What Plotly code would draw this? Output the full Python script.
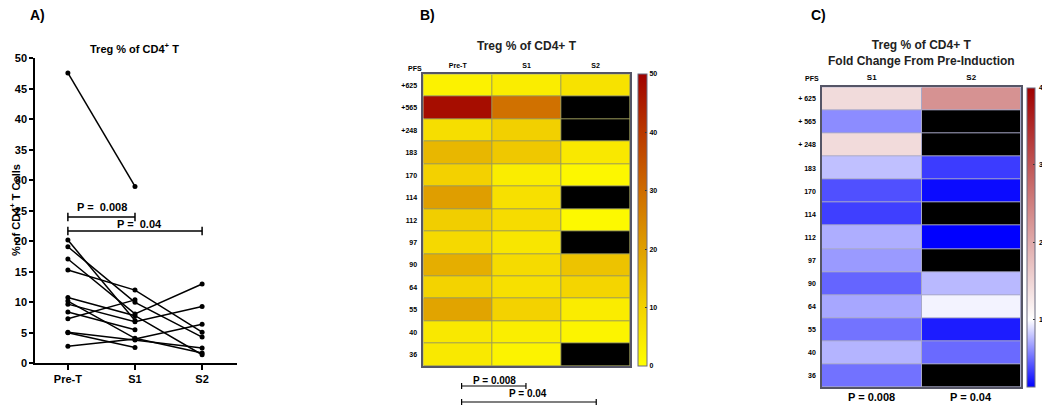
import numpy as np
import plotly.graph_objects as go

# ---------------- data ----------------
pfs_labels = ["+625", "+565", "+248", "183", "170", "114", "112", "97", "90", "64", "55", "40", "36"]
pfs_labels_c = ["+ 625", "+ 565", "+ 248", "183", "170", "114", "112", "97", "90", "64", "55", "40", "36"]
timepoints = ["Pre-T", "S1", "S2"]
pre_t = [2.8, 47.6, 7.3, 15.3, 10.2, 20.2, 10.8, 8.4, 17.1, 9.7, 19.1, 5.1, 5.0]
s1 = [4.0, 29.0, 10.4, 12.0, 4.1, 7.0, 7.8, 5.5, 8.1, 6.8, 10.0, 3.8, 2.6]
s2 = [6.4, None, None, 5.1, 1.7, None, 1.4, None, 13.0, 9.3, 4.3, 2.5, None]
y_ticks_a = [0, 5, 10, 15, 20, 25, 30, 35, 40, 45, 50]
cbar_ticks_c = [1, 2, 3, 4]

# page body has an 8px margin; keep the figure inside the visible window
OFF = 8
W, H = 1050 - 2 * OFF, 406 - OFF
def pxx(x):
    return (x - OFF) / W
def pyy(y):
    return 1 - (y - OFF) / H

FONT = "Liberation Sans, Arial, sans-serif"
def bf(size, color="black"):
    return dict(family=FONT, size=size, color=color, weight="bold")

n = len(pre_t)
fig = go.Figure()

# ---------------- Panel A: paired lines ----------------
for i in range(n):
    ys = [pre_t[i], s1[i], s2[i]]
    fig.add_trace(go.Scatter(
        x=[0, 1, 2], y=[np.nan if v is None else v for v in ys],
        mode="lines+markers", line=dict(color="black", width=1.5),
        marker=dict(color="black", size=5), showlegend=False,
        hoverinfo="skip", xaxis="x", yaxis="y"))

# ---------------- Panel B: heatmap of raw values ----------------
rows = list(range(n))
s2_arr = np.array([np.nan if v is None else v for v in s2], dtype=float)
z_b = np.column_stack([np.array(pre_t), np.array(s1), s2_arr])
cs_b = [[0.0, "#FFFF00"], [0.2, "#F3D200"], [0.4, "#DF9F00"], [0.6, "#CE6C00"],
        [0.8, "#B93800"], [1.0, "#A00000"]]
fig.add_trace(go.Heatmap(
    z=z_b, x=[0, 1, 2], y=rows, colorscale=cs_b, zmin=0, zmax=50,
    xgap=1, ygap=1, xaxis="x2", yaxis="y2", hoverinfo="skip",
    colorbar=dict(x=pxx(638), xanchor="left", y=pyy(366), yanchor="bottom",
                  len=(366 - 74.3) / H, lenmode="fraction", thickness=9,
                  xpad=0, ypad=0, outlinewidth=1, outlinecolor="#6a6a80",
                  tickvals=[0, 10, 20, 30, 40, 50], ticks="inside", ticklen=2,
                  tickcolor="#333333", tickfont=bf(7))))
mask_b = np.where(np.isnan(z_b), 1.0, np.nan)
fig.add_trace(go.Heatmap(
    z=mask_b, x=[0, 1, 2], y=rows, colorscale=[[0, "black"], [1, "black"]],
    showscale=False, xgap=1, ygap=1, xaxis="x2", yaxis="y2", hoverinfo="skip"))

# ---------------- Panel C: fold change heatmap ----------------
fold = np.column_stack([np.array(s1) / np.array(pre_t), s2_arr / np.array(pre_t)])
zmin_c, zmax_c = 0.13, 4.0
w = (1 - zmin_c) / (zmax_c - zmin_c)
cs_c = [[0.0, "#0000FF"], [w, "#FFFFFF"], [1.0, "#A00000"]]
cb_c_bottom, cb_c_top = 386.7, 87.7
fig.add_trace(go.Heatmap(
    z=fold, x=[0, 1], y=rows, colorscale=cs_c, zmin=zmin_c, zmax=zmax_c,
    xgap=1, ygap=1, xaxis="x3", yaxis="y3", hoverinfo="skip",
    colorbar=dict(x=pxx(1027), xanchor="left", y=pyy(cb_c_bottom), yanchor="bottom",
                  len=(cb_c_bottom - cb_c_top) / H, lenmode="fraction", thickness=8,
                  xpad=0, ypad=0, outlinewidth=1, outlinecolor="#6a6a80",
                  tickvals=cbar_ticks_c, ticks="inside", ticklen=2,
                  showticklabels=False, tickcolor="#333333")))
mask_c = np.where(np.isnan(fold), 1.0, np.nan)
fig.add_trace(go.Heatmap(
    z=mask_c, x=[0, 1], y=rows, colorscale=[[0, "black"], [1, "black"]],
    showscale=False, xgap=1, ygap=1, xaxis="x3", yaxis="y3", hoverinfo="skip"))

# ---------------- layout ----------------
shapes = []
annotations = []

def ann(x, y, text, font, xref="paper", yref="paper", **kw):
    d = dict(x=x, y=y, xref=xref, yref=yref, text=text, showarrow=False, font=font,
             xanchor="center", yanchor="middle")
    d.update(kw)
    annotations.append(d)

# colour bar C tick labels, placed on the colour bar's own value scale
for v in cbar_ticks_c:
    frac = (v - zmin_c) / (zmax_c - zmin_c)
    ypix = cb_c_bottom - frac * (cb_c_bottom - cb_c_top)
    ann(pxx(1036.5), pyy(ypix), str(v), bf(7), xanchor="left")

# underlays for cell borders
shapes.append(dict(type="rect", xref="x2 domain", yref="y2 domain", x0=0, x1=1, y0=0, y1=1,
                   fillcolor="#9a9a5a", line=dict(width=0), layer="below"))
shapes.append(dict(type="rect", xref="x3 domain", yref="y3 domain", x0=0, x1=1, y0=0, y1=1,
                   fillcolor="#a8a8c8", line=dict(width=0), layer="below"))

# Panel A brackets
def bracket_a(x0, x1, yv, tick=0.7):
    shapes.append(dict(type="line", xref="x", yref="y", x0=x0, x1=x1, y0=yv, y1=yv,
                       line=dict(color="black", width=1.5)))
    for xx in (x0, x1):
        shapes.append(dict(type="line", xref="x", yref="y", x0=xx, x1=xx,
                           y0=yv - tick, y1=yv + tick, line=dict(color="black", width=1.5)))
bracket_a(0, 1, 24.0)
bracket_a(0, 2, 21.7)
ann(0.51, 24.3, "P =\u00a0 0.008", bf(11), xref="x", yref="y", yanchor="bottom")
ann(1.07, 21.6, "P =\u00a0 0.04", bf(11), xref="x", yref="y", yanchor="bottom")

# Panel B brackets (below the heatmap)
def bracket_b(x0, x1, ypix):
    shapes.append(dict(type="line", xref="x2", yref="paper", x0=x0, x1=x1,
                       y0=pyy(ypix), y1=pyy(ypix), line=dict(color="black", width=1.2)))
    for xx in (x0, x1):
        shapes.append(dict(type="line", xref="x2", yref="paper", x0=xx, x1=xx,
                           y0=pyy(ypix - 3), y1=pyy(ypix + 3), line=dict(color="black", width=1.2)))
bracket_b(0.056, 0.99, 386)
bracket_b(0.056, 2.01, 402)
ann(0.54, pyy(380), "P = 0.008", bf(10), xref="x2")
ann(1.02, pyy(393), "P = 0.04", bf(10), xref="x2")

# Panel labels & titles
ann(pxx(37), pyy(15.5), "A)", bf(14))
ann(pxx(427), pyy(15.5), "B)", bf(14))
ann(pxx(818), pyy(15.5), "C)", bf(14))
ann(pxx(134), pyy(48), "Treg % of CD4<sup>+</sup> T", bf(11))
ann(pxx(15), pyy(210), "% of CD4<sup>+</sup> T Cells", bf(11), textangle=-90)
ann(pxx(527), pyy(46), "Treg % of CD4+ T", bf(12, "#222222"))
ann(pxx(921), pyy(53), "Treg % of CD4+ T<br>Fold Change From Pre-Induction", bf(12, "#222222"))
ann(pxx(415), pyy(68.5), "PFS", bf(7))
ann(pxx(812), pyy(78), "PFS", bf(7))
ann(0, pyy(397), "P = 0.008", bf(11), xref="x3")
ann(1, pyy(397), "P = 0.04", bf(11), xref="x3")

frame = "#555566"
fig.update_layout(
    width=W, height=H, margin=dict(l=0, r=0, t=0, b=0, pad=0, autoexpand=False),
    paper_bgcolor="white", plot_bgcolor="white", showlegend=False,
    font=dict(family=FONT, color="black"),
    xaxis=dict(domain=[pxx(35), pxx(237)], range=[-0.49, 2.52], tickvals=[0, 1, 2],
               ticktext=timepoints, showline=True, linecolor="black", linewidth=1.5,
               ticks="outside", ticklen=5, tickwidth=1.5, tickcolor="black",
               showgrid=False, zeroline=False, tickfont=bf(11), anchor="y", automargin=False),
    yaxis=dict(domain=[pyy(363.3), pyy(58.3)], range=[0, 50], tickvals=y_ticks_a,
               showline=True, linecolor="black", linewidth=1.5, ticks="outside",
               ticklen=4, tickwidth=1.5, tickcolor="black", showgrid=False,
               zeroline=False, tickfont=bf(11), anchor="x", automargin=False),
    xaxis2=dict(domain=[pxx(423.3), pxx(630)], range=[-0.5, 2.5], tickvals=[0, 1, 2],
                ticktext=timepoints, side="top", showline=True, mirror=True,
                linecolor=frame, linewidth=1.5, ticks="", showgrid=False, zeroline=False,
                tickfont=bf(7), anchor="y2", ticklabelstandoff=2, automargin=False),
    yaxis2=dict(domain=[pyy(366), pyy(74.3)], range=[n - 0.5, -0.5], tickvals=rows,
                ticktext=pfs_labels, showline=True, mirror=True, linecolor=frame,
                linewidth=1.5, ticks="", showgrid=False, zeroline=False,
                tickfont=bf(7), anchor="x2", ticklabelstandoff=3, automargin=False),
    xaxis3=dict(domain=[pxx(822), pxx(1021)], range=[-0.5, 1.5], tickvals=[0, 1],
                ticktext=timepoints[1:], side="top", showline=True, mirror=True,
                linecolor=frame, linewidth=1.5, ticks="", showgrid=False, zeroline=False,
                tickfont=bf(8), anchor="y3", ticklabelstandoff=2, automargin=False),
    yaxis3=dict(domain=[pyy(387.3), pyy(87.3)], range=[n - 0.5, -0.5], tickvals=rows,
                ticktext=pfs_labels_c, showline=True, mirror=True, linecolor=frame,
                linewidth=1.5, ticks="", showgrid=False, zeroline=False,
                tickfont=bf(7), anchor="x3", ticklabelstandoff=3, automargin=False),
    shapes=shapes, annotations=annotations,
)

fig.write_html("out.html")
